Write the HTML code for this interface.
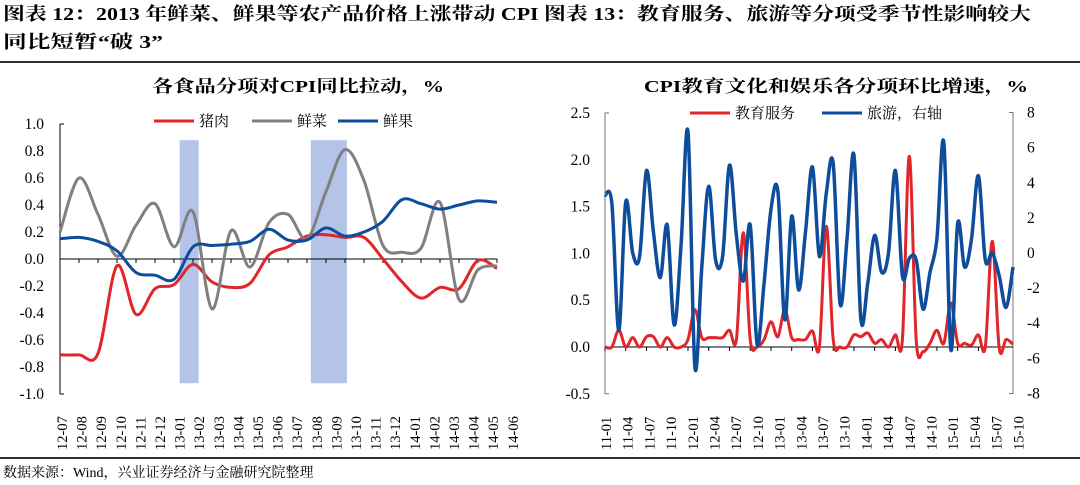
<!DOCTYPE html>
<html><head><meta charset="utf-8">
<style>
body{margin:0;width:1080px;height:485px;background:#fff;overflow:hidden;font-family:"Liberation Serif","Noto Serif CJK SC",serif}
svg{position:absolute;left:0;top:0}
</style></head><body>
<svg width="1080" height="485" viewBox="0 0 1080 485" xmlns="http://www.w3.org/2000/svg">
<g font-family="Liberation Serif, Noto Serif CJK SC, serif" font-weight="bold" font-size="18" fill="#000">
<text x="3" y="20" textLength="1028" lengthAdjust="spacingAndGlyphs">图表 12：2013 年鲜菜、鲜果等农产品价格上涨带动 CPI  图表 13：教育服务、旅游等分项受季节性影响较大</text>
<text x="3" y="48" textLength="160" lengthAdjust="spacingAndGlyphs">同比短暂“破 3”</text>
</g>
<line x1="0" y1="62" x2="1080" y2="62" stroke="#333" stroke-width="2"/>
<text x="152" y="92" font-size="17" font-weight="bold" textLength="292" lengthAdjust="spacingAndGlyphs">各食品分项对CPI同比拉动，%</text>
<text x="644" y="92" font-size="17" font-weight="bold" textLength="384" lengthAdjust="spacingAndGlyphs">CPI教育文化和娱乐各分项环比增速，%</text>
<g id="left"></g>
<g id="right"></g>
<line x1="0" y1="458" x2="1080" y2="458" stroke="#333" stroke-width="2"/>
<text x="3" y="477" font-size="14">数据来源：Wind，兴业证券经济与金融研究院整理</text>
</svg>
<script>
// ---- left chart data ----
const leftCats = ["12-07","12-08","12-09","12-10","12-11","12-12","13-01","13-02","13-03","13-04","13-05","13-06","13-07","13-08","13-09","13-10","13-11","13-12","14-01","14-02","14-03","14-04","14-05","14-06"];
const pork = [-0.71,-0.71,-0.70,-0.05,-0.41,-0.22,-0.19,-0.04,-0.17,-0.21,-0.18,0.03,0.09,0.17,0.18,0.16,0.16,0.0,-0.17,-0.29,-0.21,-0.22,-0.01,-0.07];
const veg = [0.2,0.6,0.33,0.02,0.25,0.41,0.09,0.35,-0.37,0.21,-0.06,0.27,0.33,0.15,0.5,0.81,0.58,0.1,0.05,0.08,0.42,-0.3,-0.08,-0.05];
const fruit = [0.15,0.16,0.13,0.06,-0.1,-0.12,-0.15,0.09,0.1,0.11,0.13,0.22,0.14,0.14,0.23,0.17,0.2,0.28,0.44,0.41,0.37,0.4,0.43,0.42];
const leftTicks = [1.0,0.8,0.6,0.4,0.2,0.0,-0.2,-0.4,-0.6,-0.8,-1.0];
const bands = [[6.3,7.3],[13.2,15.1]];
// ---- right chart data ----
const rightLabels = ["11-01","11-04","11-07","11-10","12-01","12-04","12-07","12-10","13-01","13-04","13-07","13-10","14-01","14-04","14-07","14-10","15-01","15-04","15-07","15-10"];
const edu = [0,0,0.18,0,0.1,0,0.11,0.11,0,0.1,0,0,0.08,0.4,0.1,0.1,0.1,0.1,0.18,0.08,1.22,0.08,0,0.08,0.27,0.11,0.4,0.1,0.08,0.08,0.17,0,1.29,0.08,0,0,0.13,0.11,0.15,0.04,0.08,0,0.13,0.08,2.04,0.08,-0.05,0.04,0.18,0.04,0.47,0.04,0.04,0.02,0.13,0,1.13,-0.01,0.08,0.03];
const travel = [3.3,2.8,-4.4,2.9,0,-0.2,4.7,1.2,-1.4,1.6,-4.1,0.5,6.9,-6.5,-0.8,3.8,-0.4,-0.2,5.0,1.0,-1.6,1.6,-5.2,-1.7,2.5,3.5,-3.8,2.1,-2.1,1.2,4.9,-0.2,3.4,5.1,-2.9,0.8,5.6,-3.8,-1.7,1.0,-1.1,0,4.7,-1.3,-0.3,-0.4,-3.2,-1.1,0.8,6.3,-5.5,1.7,-0.8,0.8,4.4,-0.4,0,-1.3,-3.1,-0.8];
const rightLTicks = ["2.5","2.0","1.5","1.0","0.5","0.0","-0.5"];
const rightRTicks = ["8","6","4","2","0","-2","-4","-6","-8"];

const NS="http://www.w3.org/2000/svg";
function mk(parent,tag,attrs){const e=document.createElementNS(NS,tag);for(const k in attrs)e.setAttribute(k,attrs[k]);parent.appendChild(e);return e;}
function smooth(pts){let d="M"+pts[0][0]+","+pts[0][1];for(let i=0;i<pts.length-1;i++){const p0=pts[i-1]||pts[i],p1=pts[i],p2=pts[i+1],p3=pts[i+2]||p2;const c1=[p1[0]+(p2[0]-p0[0])/6,p1[1]+(p2[1]-p0[1])/6],c2=[p2[0]-(p3[0]-p1[0])/6,p2[1]-(p3[1]-p1[1])/6];d+="C"+c1[0].toFixed(1)+","+c1[1].toFixed(1)+" "+c2[0].toFixed(1)+","+c2[1].toFixed(1)+" "+p2[0].toFixed(1)+","+p2[1].toFixed(1);}return d;}

// LEFT
const L=document.getElementById('left');
const lx0=60,lx1=497,ly=v=>259-v*135;
const lx=i=>lx0+i*(lx1-lx0)/(leftCats.length-1);
bands.forEach((b,i)=>{const r=mk(L,'rect',{x:lx(b[0]),y:ly(0.88),width:lx(b[1])-lx(b[0]),height:ly(-0.92)-ly(0.88),fill:'#b4c3e8'});

});
mk(L,'line',{x1:lx0,y1:ly(1),x2:lx0,y2:ly(-1),stroke:'#000','stroke-width':1});
mk(L,'line',{x1:lx0,y1:ly(1),x2:lx0+4,y2:ly(1),stroke:'#000'});
mk(L,'line',{x1:lx0,y1:ly(-1),x2:lx0+4,y2:ly(-1),stroke:'#000'});
mk(L,'line',{x1:lx0,y1:ly(0),x2:lx1,y2:ly(0),stroke:'#000','stroke-width':1});
leftCats.forEach((c,i)=>{mk(L,'line',{x1:lx(i),y1:ly(0),x2:lx(i),y2:ly(0)+4,stroke:'#000'});
const t=mk(L,'text',{transform:`translate(${67+i*19.6},450) rotate(-90)`,'font-size':14.5,'font-family':'Liberation Serif,serif'});t.textContent=c;

});
leftTicks.forEach(v=>{const t=mk(L,'text',{x:44,y:ly(v)+5,'text-anchor':'end','font-size':15.5});t.textContent=v.toFixed(1);

});
[[pork,'#e0262a','pork-line'],[veg,'#808080','vegetable-line'],[fruit,'#0d4d9b','fruit-line']].forEach(s=>{
const p=mk(L,'path',{d:smooth(s[0].map((v,i)=>[lx(i),ly(v)])),fill:'none',stroke:s[1],'stroke-width':3});

});
[['猪肉','#e0262a',154],['鲜菜','#808080',252],['鲜果','#0d4d9b',338]].forEach((g,i)=>{
const gg=mk(L,'g',{});


mk(gg,'line',{x1:g[2],y1:121,x2:g[2]+40,y2:121,stroke:g[1],'stroke-width':3});
const t=mk(gg,'text',{x:g[2]+45,y:126,'font-size':15,'font-family':'Noto Serif CJK SC,serif'});t.textContent=g[0];});

// RIGHT
const R=document.getElementById('right');
const rx0=605,rx1=1013,ryl=v=>347-v*93.6,ryr=v=>253-v*17.56;
const rx=i=>rx0+i*(rx1-rx0)/(travel.length-1);
mk(R,'path',{d:`M${rx0+4},${ryl(2.5)}H${rx0}V${ryl(-0.5)}H${rx0+4}`,fill:'none',stroke:'#777'});
mk(R,'path',{d:`M${rx1-4},${ryr(8)}H${rx1}V${ryr(-8)}H${rx1-4}`,fill:'none',stroke:'#777'});
mk(R,'line',{x1:rx0,y1:ryl(0),x2:rx1,y2:ryl(0),stroke:'#000'});
for(let i=0;i<travel.length;i+=3)mk(R,'line',{x1:rx(i),y1:ryl(0),x2:rx(i),y2:ryl(0)+4,stroke:'#000'});
rightLabels.forEach((c,i)=>{const t=mk(R,'text',{transform:`translate(${611+i*21.7},450) rotate(-90)`,'font-size':14.5});t.textContent=c;

});
rightLTicks.forEach(v=>{const t=mk(R,'text',{x:590,y:ryl(parseFloat(v))+5,'text-anchor':'end','font-size':15.5});t.textContent=v;

});
rightRTicks.forEach(v=>{const t=mk(R,'text',{x:1027,y:ryr(parseFloat(v))+5,'font-size':15.5});t.textContent=v;

});
const p1=mk(R,'path',{d:smooth(edu.map((v,i)=>[rx(i),ryl(v)])),fill:'none',stroke:'#e0262a','stroke-width':3});


const p2=mk(R,'path',{d:smooth(travel.map((v,i)=>[rx(i),ryr(v)])),fill:'none',stroke:'#0d4d9b','stroke-width':3.5});


[['教育服务','#e0262a',690],['旅游，右轴','#0d4d9b',822]].forEach(g=>{
const gg=mk(R,'g',{});


mk(gg,'line',{x1:g[2],y1:113,x2:g[2]+40,y2:113,stroke:g[1],'stroke-width':3});
const t=mk(gg,'text',{x:g[2]+45,y:118,'font-size':15,'font-family':'Noto Serif CJK SC,serif'});t.textContent=g[0];});
</script>
</body></html>
